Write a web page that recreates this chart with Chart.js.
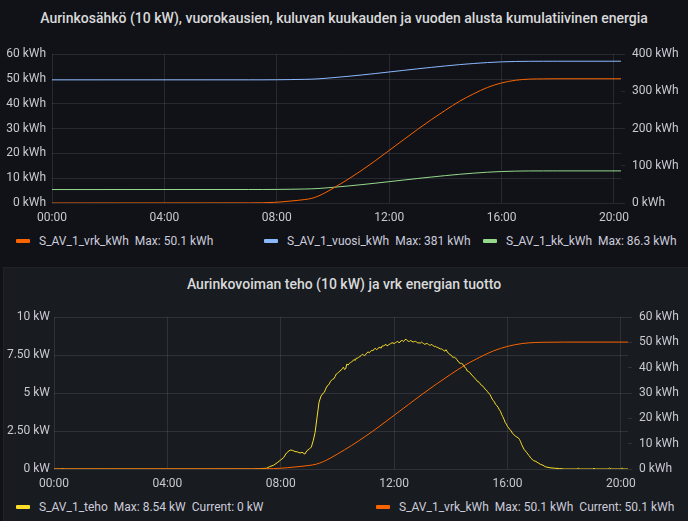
<!DOCTYPE html>
<html><head><meta charset="utf-8">
<script src="https://cdn.jsdelivr.net/npm/chart.js@4.4.1/dist/chart.umd.min.js"></script>
<style>
html,body{margin:0;padding:0;background:#111217;width:688px;height:521px;overflow:hidden;font-family:Roboto,sans-serif;}
#bottomPanel{position:absolute;left:3px;top:267px;width:700px;height:270px;background:#181b1f;border:1px solid #202226;box-sizing:border-box;}
.title{position:absolute;left:0;width:688px;height:20px;line-height:20px;text-align:center;color:#d8d9da;font-size:14px;font-weight:500;}
.cv{position:absolute;left:0;}
.leg{position:absolute;height:16px;line-height:16px;color:#ccccdc;font-size:12px;white-space:nowrap;display:flex;align-items:center;}
.leg i{display:inline-block;width:14px;height:4px;margin-right:9px;border-radius:1px}
.leg span{margin-left:6px}
</style></head>
<body>
<div class="title" style="top:8px">Aurinkosähkö (10 kW), vuorokausien, kuluvan kuukauden ja vuoden alusta kumulatiivinen energia</div>
<canvas id="c1" class="cv" style="top:40px" width="688" height="190"></canvas>
<div class="leg" style="left:16px;top:233px"><i style="background:#FA6400"></i>S_AV_1_vrk_kWh<span>Max: 50.1 kWh</span></div>
<div class="leg" style="left:264px;top:233px"><i style="background:#8AB8FF"></i>S_AV_1_vuosi_kWh<span>Max: 381 kWh</span></div>
<div class="leg" style="left:483px;top:233px"><i style="background:#96D98D"></i>S_AV_1_kk_kWh<span>Max: 86.3 kWh</span></div>
<div id="bottomPanel"></div>
<div class="title" style="top:274px">Aurinkovoiman teho (10 kW) ja vrk energian tuotto</div>
<canvas id="c2" class="cv" style="top:300px" width="688" height="196"></canvas>
<div class="leg" style="left:16px;top:499px"><i style="background:#FADE2A"></i>S_AV_1_teho<span>Max: 8.54 kW</span><span>Current: 0 kW</span></div>
<div class="leg" style="left:376px;top:499px"><i style="background:#FA6400"></i>S_AV_1_vrk_kWh<span>Max: 50.1 kWh</span><span>Current: 50.1 kWh</span></div>
<script>
// ---- data (hours of day) ----
const energyHours = [0, 7.0, 7.5, 8.0, 8.5, 9.0, 9.25, 9.5, 9.75, 10.0, 10.5, 11.0, 11.5, 12.0, 12.5, 13.0, 13.5, 14.0, 14.5, 15.0, 15.5, 16.0, 16.5, 17.0, 17.5, 18.0, 20.25];
const vrkKWh   = [0, 0.05, 0.1, 0.3, 0.8, 1.4, 1.9, 2.9, 4.3, 5.9, 9.3, 13.0, 17.0, 21.2, 25.4, 29.6, 33.6, 37.4, 41.0, 44.0, 46.6, 48.4, 49.5, 49.95, 50.05, 50.1, 50.1];
const vuosiKWh = [331, 331.05, 331.1, 331.3, 331.8, 332.4, 332.9, 333.9, 335.3, 336.9, 340.3, 344.0, 348.0, 352.2, 356.4, 360.6, 364.6, 368.4, 372.0, 375.0, 377.6, 379.4, 380.5, 380.95, 381.05, 381.1, 381.1];
const kkKWh    = [36.2, 36.25, 36.3, 36.5, 37.0, 37.6, 38.1, 39.1, 40.5, 42.1, 45.5, 49.2, 53.2, 57.4, 61.6, 65.8, 69.8, 73.6, 77.2, 80.2, 82.8, 84.6, 85.7, 86.15, 86.25, 86.3, 86.3];

const powerHours = [
  0, 0.28, 0.3, 0.32, 7.0, 7.25, 7.5, 7.6, 7.75, 7.9, 8.0, 8.1, 8.2, 8.33, 8.42, 8.5, 8.6, 8.68, 8.75, 8.85, 8.92, 9.0, 9.08, 9.15, 9.21, 9.28, 9.35, 9.42, 9.5,
  9.54, 9.58, 9.63, 9.67, 9.71, 9.75, 9.79, 9.83, 9.88, 9.92, 9.96, 10.0, 10.04, 10.08, 10.13, 10.17, 10.21, 10.25, 10.29, 10.33, 10.38, 10.42, 10.46, 10.5,
  10.54, 10.58, 10.63, 10.67, 10.71, 10.75, 10.79, 10.83, 10.88, 10.92, 10.96, 11.0, 11.04, 11.08, 11.13, 11.17, 11.21, 11.25, 11.29, 11.33, 11.38, 11.42, 11.46, 11.5,
  11.54, 11.58, 11.63, 11.67, 11.71, 11.75, 11.79, 11.83, 11.88, 11.92, 11.96, 12.0, 12.04, 12.08, 12.13, 12.17, 12.21, 12.25, 12.29, 12.33, 12.38, 12.42, 12.46, 12.5,
  12.54, 12.58, 12.63, 12.67, 12.71, 12.75, 12.79, 12.83, 12.88, 12.92, 12.96, 13.0, 13.04, 13.08, 13.13, 13.17, 13.21, 13.25, 13.29, 13.33, 13.38, 13.42, 13.46, 13.5,
  13.54, 13.58, 13.63, 13.67, 13.71, 13.75, 13.79, 13.83, 13.88, 13.92, 13.96, 14.0, 14.04, 14.08, 14.13, 14.17, 14.21, 14.25, 14.29, 14.33, 14.38, 14.42, 14.46, 14.5,
  14.54, 14.58, 14.63, 14.67, 14.71, 14.75, 14.79, 14.83, 14.88, 14.92, 14.96, 15.0, 15.04, 15.08, 15.13, 15.17, 15.21, 15.25, 15.29, 15.33, 15.38, 15.42, 15.46, 15.5,
  15.54, 15.58, 15.63, 15.67, 15.71, 15.75, 15.79, 15.83, 15.88, 15.92, 15.96, 16.0, 16.04, 16.08, 16.13, 16.17, 16.21, 16.25, 16.29, 16.33, 16.38, 16.42, 16.46, 16.5,
  16.58, 16.67, 16.75, 16.83, 16.92, 17.0, 17.08, 17.17, 17.25, 17.33, 17.5, 17.67, 17.83, 18.0, 18.45, 18.5, 18.55, 19.0, 19.05, 19.1, 19.55, 19.6, 19.65, 20.0, 20.05, 20.1, 20.25];
const powerKW = [
  0, 0, 0.06, 0, 0, 0.02, 0.05, 0.15, 0.25, 0.45, 0.6, 0.75, 1.05, 1.25, 1.22, 1.15, 1.12, 1.05, 1.1, 0.98, 1.2, 1.3, 1.45, 1.9, 2.4, 3.4, 4.4, 4.8, 5.0,
  5.05, 5.25, 5.45, 5.5, 5.6, 5.75, 5.85, 5.9, 5.95, 6.1, 6.25, 6.3, 6.35, 6.45, 6.5, 6.6, 6.7, 6.55, 6.6, 6.9, 6.85, 6.95, 7.0, 7.05,
  7.1, 7.2, 7.15, 7.3, 7.3, 7.35, 7.4, 7.45, 7.55, 7.5, 7.45, 7.55, 7.65, 7.7, 7.65, 7.75, 7.8, 7.8, 7.85, 7.95, 7.85, 7.9, 8.0, 8.0,
  7.95, 8.1, 8.1, 8.15, 8.2, 8.1, 8.15, 8.2, 8.25, 8.3, 8.3, 8.25, 8.3, 8.35, 8.4, 8.3, 8.35, 8.45, 8.45, 8.38, 8.5, 8.54, 8.45, 8.4,
  8.4, 8.45, 8.4, 8.35, 8.38, 8.4, 8.35, 8.3, 8.3, 8.28, 8.35, 8.3, 8.25, 8.2, 8.25, 8.25, 8.2, 8.15, 8.15, 8.2, 8.1, 8.05, 8.08, 8.0,
  8.0, 7.95, 7.9, 7.9, 7.85, 7.8, 7.75, 7.85, 7.7, 7.6, 7.55, 7.5, 7.4, 7.35, 7.35, 7.3, 7.2, 7.1, 7.0, 6.95, 6.95, 6.9, 6.75, 6.7,
  6.6, 6.45, 6.4, 6.35, 6.25, 6.15, 6.1, 6.0, 5.9, 5.8, 5.75, 5.7, 5.6, 5.5, 5.45, 5.35, 5.25, 5.2, 5.1, 5.0, 4.9, 4.75, 4.6, 4.5,
  4.4, 4.25, 4.15, 4.05, 3.9, 3.8, 3.6, 3.45, 3.25, 3.05, 2.95, 2.8, 2.7, 2.6, 2.5, 2.35, 2.3, 2.2, 2.15, 2.1, 2.05, 1.95, 1.8, 1.6,
  1.3, 1.1, 0.9, 0.7, 0.55, 0.5, 0.4, 0.3, 0.25, 0.15, 0.08, 0.05, 0.03, 0, 0, 0.05, 0, 0, 0.04, 0, 0, 0.06, 0, 0, 0.05, 0, 0];

const xTicks = [0, 4, 8, 12, 16, 20];

// ---- helpers ----
const pts = (xs, ys) => xs.map((x, i) => ({x, y: ys[i]}));
const hhmm = v => String(Math.floor(v)).padStart(2, '0') + ':' + String(Math.round((v % 1) * 60)).padStart(2, '0');
const GRID = 'rgba(204,204,220,0.13)';
Chart.defaults.font.family = 'Roboto, sans-serif';
Chart.defaults.font.size = 12;
Chart.defaults.color = '#c7c9d1';

function xScale(h) {
  return {
    type: 'linear', min: 0, max: 20.25,
    afterBuildTicks: s => { s.ticks = xTicks.map(v => ({value: v})); },
    afterFit: s => { s.height = h; },
    ticks: {padding: 8, maxRotation: 0, callback: v => hhmm(v)},
    grid: {color: GRID, drawTicks: false},
    border: {display: false}
  };
}
function yScale(pos, w, min, max, step, fmt, pad, onArea) {
  return {
    position: pos, min, max,
    afterFit: s => { s.width = w; },
    ticks: {stepSize: step, padding: pad, callback: fmt},
    grid: onArea ? {color: GRID, drawTicks: false} : {color: GRID, drawOnChartArea: false, drawTicks: true, tickLength: 4},
    border: {display: false}
  };
}
const line = (label, data, color, axis, extra) => Object.assign({
  label, data, borderColor: color, backgroundColor: color, borderWidth: 1, pointRadius: 0,
  yAxisID: axis, cubicInterpolationMode: 'monotone', fill: false
}, extra || {});

const common = {
  responsive: false, animation: false,
  plugins: {legend: {display: false}, tooltip: {enabled: false}, title: {display: false}},
};

new Chart(document.getElementById('c1'), {
  type: 'line',
  data: {datasets: [
    line('S_AV_1_vrk_kWh', pts(energyHours, vrkKWh), '#FA6400', 'yL', {order: 0}),
    line('S_AV_1_vuosi_kWh', pts(energyHours, vuosiKWh), '#8AB8FF', 'yR', {order: 1}),
    line('S_AV_1_kk_kWh', pts(energyHours, kkKWh), '#96D98D', 'yR', {order: 2})
  ]},
  options: Object.assign({}, common, {
    layout: {padding: {top: 11, left: 0, right: 0, bottom: 0}},
    scales: {
      x: xScale(27),
      yL: yScale('left', 52, 0, 60, 10, v => v + ' kWh', 6, true),
      yR: yScale('right', 67, 0, 400, 100, v => v + ' kWh', 7, false)
    }
  })
});

new Chart(document.getElementById('c2'), {
  type: 'line',
  data: {datasets: [
    line('S_AV_1_teho', pts(powerHours, powerKW), '#FADE2A', 'yL', {order: 1, cubicInterpolationMode: 'default', tension: 0}),
    line('S_AV_1_vrk_kWh', pts(energyHours, vrkKWh), '#FA6400', 'yR', {order: 0})
  ]},
  options: Object.assign({}, common, {
    layout: {padding: {top: 17, left: 0, right: 0, bottom: 0}},
    scales: {
      x: xScale(27),
      yL: yScale('left', 54, 0, 10, 2.5, v => (Number.isInteger(v) ? v : v.toFixed(2)) + ' kW', 4, true),
      yR: yScale('right', 60, 0, 60, 10, v => v + ' kWh', 7, false)
    }
  })
});
</script>
</body></html>
